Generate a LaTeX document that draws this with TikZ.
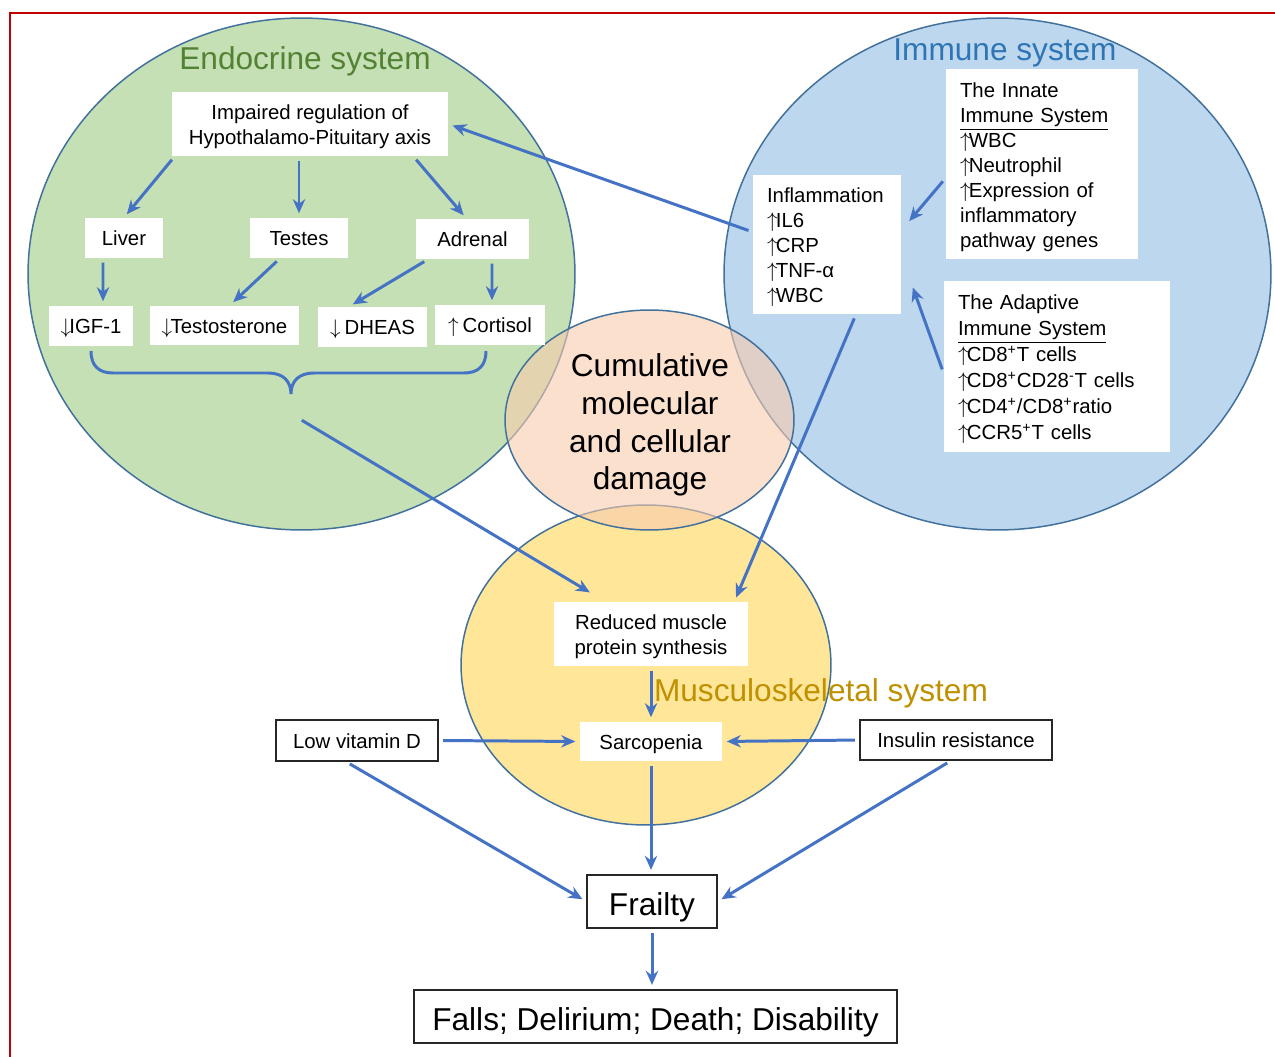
\documentclass[tikz,border=0pt]{standalone}
\usepackage{fontspec}
\setmainfont{Liberation Sans}
\usepackage{xcolor}
\usepackage{tikz}
\usetikzlibrary{
  arrows.meta
}

\definecolor{endofill}{HTML}{C5E0B4}
\definecolor{immfill}{HTML}{BDD7EE}
\definecolor{dmgfill}{HTML}{F8CBAD}
\definecolor{muscfill}{HTML}{FFE699}
\definecolor{rimblue}{HTML}{41719C}
\definecolor{arrblue}{HTML}{4472C4}
\definecolor{endotext}{HTML}{548235}
\definecolor{immtext}{HTML}{2E75B6}
\definecolor{musctext}{HTML}{BF9000}
\definecolor{framered}{HTML}{C00000}

% 増減の矢印
\newcommand{\incr}{$\uparrow$\kern-0.08em}
\newcommand{\decr}{$\downarrow$\kern-0.08em}
% 一行目の上の余白
\newcommand{\topgap}{\rule{0pt}{1.02em}}

\begin{document}
\begin{tikzpicture}[%全体の設定
          x=0.02cm,y=-0.02cm,
          system/.style={
              draw=rimblue,
              line width=0.85pt
            },
          box/.style={
              fill=white,
              inner sep=0pt,
              font=\fontsize{11.6}{14.2}\selectfont
            },
          oneline/.style={
              box,
              text height=8.6pt,
              text depth=0pt
            },
          listbox/.style={
              box,
              align=left,
              inner xsep=0.28cm
            },
          outbox/.style={
              oneline,
              draw=black!85,
              line width=0.8pt
            },
          title/.style={
              font=\fontsize{18}{21.5}\selectfont
            },
          arr/.style={
              draw=arrblue,
              line width=1.7pt,
              -{Stealth[length=8pt,width=7pt]},
              shorten <=2.5pt,
              shorten >=2.5pt
            }
        ]
        \useasboundingbox (0,0) rectangle (1275,1057);

        % 枠線
        \draw[framered, line width=1.7pt] (10,1057) -- (10,13) -- (1275,13);

        % 各システムの円
        \draw[system, fill=endofill] (301.5,274) ellipse [x radius=5.47cm, y radius=5.12cm];
        \draw[system, fill=immfill] (997.5,274) ellipse [x radius=5.47cm, y radius=5.12cm];
        \draw[system, fill=muscfill] (646,665) ellipse [x radius=3.7cm, y radius=3.2cm];
        \draw[system, fill=dmgfill, fill opacity=0.6] (649.5,420) ellipse [x radius=2.89cm, y radius=2.2cm];

        % 見出し
        \node[title, text=endotext] (endo_title) at (305,61) {Endocrine system};
        \node[title, text=immtext] (imm_title) at (1005,53) {Immune system};
        \node[title, text=musctext] (musc_title) at (821,693) {Musculoskeletal system};
        \node[title, align=center] (damage) at (650,425) {Cumulative\\molecular\\and cellular\\damage};

        % 内分泌系のボックス
        \node[box, minimum width=5.52cm, minimum height=1.28cm, align=center] (impaired) at (310,124)
          {\topgap Impaired regulation of\\Hypothalamo-Pituitary axis};
        \node[oneline, minimum width=1.56cm, minimum height=0.8cm] (liver) at (124,238) {Liver};
        \node[oneline, minimum width=1.96cm, minimum height=0.8cm] (testes) at (299,238) {Testes};
        \node[oneline, minimum width=2.26cm, minimum height=0.8cm] (adrenal) at (472.5,239) {Adrenal};
        \node[oneline, minimum width=1.68cm, minimum height=0.8cm] (igf) at (91,326) {\decr IGF-1};
        \node[oneline, minimum width=2.98cm, minimum height=0.8cm] (testo) at (224.5,325.5) {\decr Testosterone};
        \node[oneline, minimum width=2.18cm, minimum height=0.8cm] (dheas) at (372.5,327) {\decr\ DHEAS};
        \node[oneline, minimum width=2.2cm, minimum height=0.8cm] (cortisol) at (490,325) {\incr\ Cortisol};

        % 免疫系のボックス
        \node[listbox, text width=2.4cm, minimum height=2.78cm] (inflam) at (827,244.5)
          {\topgap Inflammation\\\incr IL6\\\incr CRP\\\incr TNF-α\\\incr WBC};
        \node[listbox, text width=3.28cm, minimum height=3.8cm] (innate) at (1042,164)
          {\topgap The Innate\\\underline{Immune System}\\\incr WBC\\\incr Neutrophil\\\incr Expression of\\inflammatory\\pathway genes};
        \node[listbox, text width=3.96cm, minimum height=3.42cm,
          font=\fontsize{11.6}{14.8}\selectfont] (adaptive) at (1057,366.5)
          {\topgap The Adaptive\\\underline{Immune System}\\\incr CD8\textsuperscript{+}T cells\\\incr CD8\textsuperscript{+}CD28\textsuperscript{-}T cells\\\incr CD4\textsuperscript{+}/CD8\textsuperscript{+}ratio\\\incr CCR5\textsuperscript{+}T cells};

        % 筋骨格系とフレイル
        \node[box, minimum width=3.88cm, minimum height=1.28cm, align=center] (reduced) at (651,634)
          {\topgap Reduced muscle\\protein synthesis};
        \node[oneline, minimum width=2.84cm, minimum height=0.78cm] (sarco) at (651,741.5) {Sarcopenia};
        \node[outbox, minimum width=3.24cm, minimum height=0.82cm] (lowvitd) at (357,740.5) {Low vitamin D};
        \node[outbox, minimum width=3.84cm, minimum height=0.8cm] (insulin) at (956,740) {Insulin resistance};
        \node[outbox, title, text height=16pt, minimum width=2.6cm, minimum height=1.06cm] (frailty) at (652,901.5) {Frailty};
        \node[outbox, title, text height=16pt, minimum width=9.66cm, minimum height=1.06cm] (falls) at (655.5,1016.5)
          {Falls; Delirium; Death; Disability};

        % 波括弧
        \draw[arrblue, line width=1.7pt]
          (91,351) .. controls (91,366) and (99,373) .. (113,373) -- (268,373)
          .. controls (283,373) and (291,381) .. (291,394)
          .. controls (291,381) and (299,373) .. (314,373) -- (464,373)
          .. controls (478,373) and (486,366) .. (486,351);
        \coordinate (brace_out) at (298,418);

        % 矢印
        \draw[arr] ([xshift=0.06cm]impaired.south west) -- (liver.north);
        \draw[arr] (impaired.south -| testes.north) -- (testes.north);
        \draw[arr] ([xshift=-0.7cm]impaired.south east) -- ([xshift=-0.12cm]adrenal.north);
        \draw[arr] ([xshift=-0.42cm]liver.south) -- ([xshift=0.24cm]igf.north);
        \draw[arr] ([xshift=-0.38cm]testes.south) -- ([xshift=0.11cm]testo.north);
        \draw[arr] ([xshift=-0.89cm]adrenal.south) -- ([xshift=-0.47cm]dheas.north);
        \draw[arr] ([xshift=0.39cm]adrenal.south) -- ([xshift=0.04cm]cortisol.north);
        \draw[arr] ([yshift=0.25cm]inflam.west) -- (impaired.east);
        \draw[arr] ([yshift=-0.28cm]innate.west) -- ([xshift=0.1cm,yshift=0.4cm]inflam.east);
        \draw[arr] ([yshift=-0.14cm]adaptive.west) -- ([xshift=0.2cm,yshift=0.62cm]inflam.south east);
        \draw[arr] ([xshift=0.58cm]inflam.south) -- ([xshift=-0.28cm]reduced.north east);
        \draw[arr] (brace_out) -- ([xshift=0.8cm,yshift=0.14cm]reduced.north west);
        \draw[arr] (reduced.south) -- (sarco.north);
        \draw[arr] (lowvitd.east) -- (sarco.west);
        \draw[arr] (insulin.west) -- (sarco.east);
        \draw[arr] ([xshift=-0.22cm]lowvitd.south) -- (frailty.west);
        \draw[arr] (sarco.south) -- (sarco.south |- frailty.north);
        \draw[arr] (frailty.south) -- (frailty.south |- falls.north);
        \draw[arr] ([xshift=-0.1cm]insulin.south) -- (frailty.east);

      \end{tikzpicture}
\end{document}
